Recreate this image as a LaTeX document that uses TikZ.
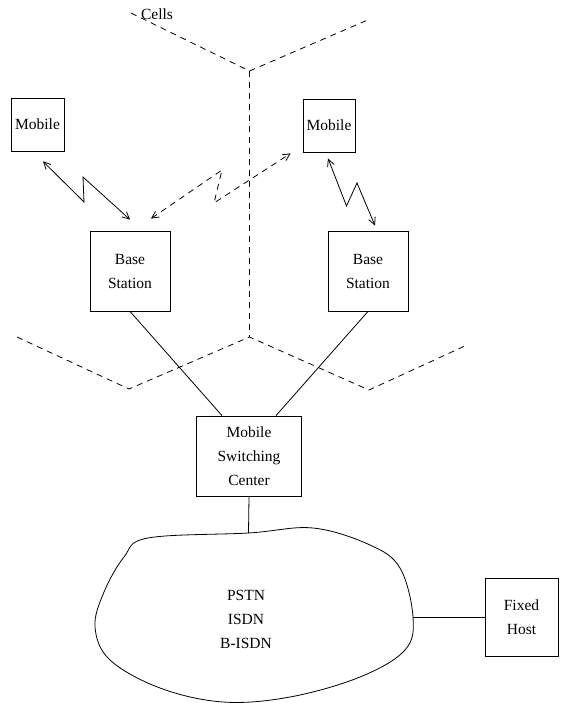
\documentclass[tikz,border=0pt]{standalone}
\usepackage{fontspec}
\setmainfont{Liberation Serif}
\usetikzlibrary{arrows.meta}

\begin{document}
\begin{tikzpicture}[x=1pt,y=-1pt,line width=0.8pt,
  font=\fontsize{15.5}{24}\selectfont,
  box/.style={draw,align=center,inner sep=0pt},
  cell/.style={dash pattern=on 6pt off 5pt},
  >={Straight Barb[length=7pt,width=7pt]}]
\useasboundingbox (0,0) rectangle (563,703);

\draw[cell] (131,13) -- (249.5,71) -- (370,19);
\draw[cell] (249.5,71) -- (249.5,337);
\draw[cell] (17,337) -- (129,389) -- (249.5,337) -- (369,390) -- (467,345);
\node (cells) at (157,14) {Cells};

\node (mobL) [box,minimum width=53pt,minimum height=53pt] at (37.5,124.5) {Mobile};
\node (mobR) [box,minimum width=52pt,minimum height=53pt] at (329,125.5) {Mobile};
\node (bsL) [box,minimum width=80pt,minimum height=80pt] at (130,271) {Base\\Station};
\node (bsR) [box,minimum width=80pt,minimum height=80pt] at (368,271) {Base\\Station};
\node (msc) [box,minimum width=105pt,minimum height=80pt] at (249,456) {Mobile\\Switching\\Center};
\node (host) [box,minimum width=73pt,minimum height=78pt] at (521.5,617) {Fixed\\Host};

\draw[<->] ([shift={(5.5,10)}]mobL.south) -- (84,202) -- (83,177)
  -- ([shift={(0,-11)}]bsL.north);
\draw[<->] ([shift={(-1,6)}]mobR.south) -- (346.5,206) -- (357,183)
  -- ([shift={(7,-5)}]bsR.north);
\draw[<->,cell] ([shift={(21,-12)}]bsL.north) -- (222,170) -- (214,203)
  -- ([shift={(-12,1)}]mobR.south west);

\draw (bsL.south) -- ([xshift=-27pt]msc.north);
\draw (bsR.south) -- ([xshift=27pt]msc.north);

\draw plot [smooth cycle,tension=0.6] coordinates {(148,538) (248.5,533)
  (313,528) (370,545) (400,568) (413,617) (405,650) (360,677) (290,697)
  (223,702) (160,688) (110,660) (95,627) (104,592) (124,557)};
\coordinate (nettop) at (248.5,533);
\coordinate (netright) at (413,617);
\node (net) [align=center] at (246,619) {PSTN\\ISDN\\B-ISDN};

\draw (msc.south) -- (nettop);
\draw (netright) -- (host.west);
\end{tikzpicture}
\end{document}
